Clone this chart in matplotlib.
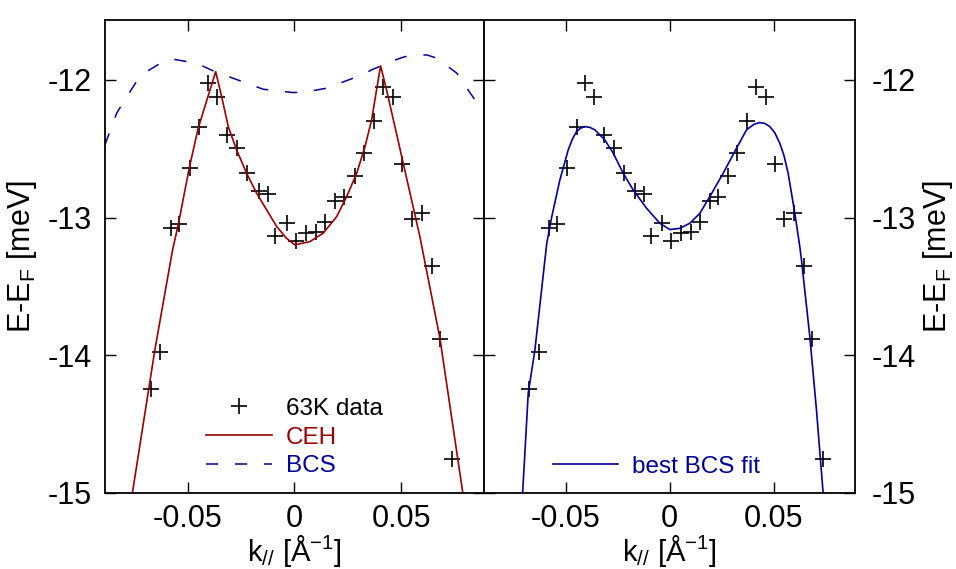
import numpy as np
import matplotlib
matplotlib.use("Agg")
import matplotlib.pyplot as plt

plt.rcParams['font.family'] = ['Liberation Sans', 'DejaVu Sans']
plt.rcParams['mathtext.default'] = 'regular'
plt.rcParams['axes.unicode_minus'] = False

# 63K data points (k in 1/A, E-EF in meV)
k_data = [-0.0673, -0.0629, -0.0579, -0.0541, -0.0491, -0.0447, -0.0405, -0.0361,
          -0.0314, -0.0268, -0.0221, -0.0167, -0.0125, -0.0089, -0.0037, 0.0008,
          0.0056, 0.0103, 0.0145, 0.0192, 0.0234, 0.0282, 0.0324, 0.0371,
          0.0414, 0.0461, 0.0506, 0.0550, 0.0597, 0.0643, 0.0682, 0.0737]
e_data = [-14.246, -13.973, -13.077, -13.046, -12.637, -12.339, -12.020, -12.126,
          -12.399, -12.496, -12.673, -12.804, -12.830, -13.133, -13.036, -13.167,
          -13.109, -13.102, -13.029, -12.877, -12.847, -12.697, -12.532, -12.298,
          -12.049, -12.126, -12.610, -13.012, -12.968, -13.351, -13.883, -14.755]

# CEH curve
k_ceh = [-0.0759, -0.0654, -0.0571, -0.0543, -0.0493, -0.0451, -0.0369, -0.0341,
         -0.0310, -0.0271, -0.0224, -0.0177, -0.0130, -0.0083, -0.0037, 0.0002,
         0.0073, 0.0135, 0.0198, 0.0245, 0.0292, 0.0331, 0.0362, 0.0385,
         0.0404, 0.0432, 0.0471, 0.0510, 0.0549, 0.0588, 0.0682, 0.0789]
e_ceh = [-14.997, -13.961, -13.235, -13.041, -12.641, -12.351, -11.940, -12.121,
         -12.339, -12.508, -12.678, -12.823, -12.944, -13.065, -13.150, -13.198,
         -13.174, -13.113, -12.993, -12.847, -12.678, -12.484, -12.290, -12.073,
         -11.898, -12.073, -12.339, -12.605, -12.871, -13.138, -13.876, -14.997]

# BCS curve (dashed, left panel)
k_bcs = [-0.0888, -0.0833, -0.0795, -0.0740, -0.0693, -0.0615, -0.0568, -0.0458,
         -0.0373, -0.0287, -0.0146, -0.0006, 0.0049, 0.0166, 0.0213, 0.0315,
         0.0362, 0.0463, 0.0518, 0.0620, 0.0667, 0.0761, 0.0791, 0.0846, 0.0893]
e_bcs = [-12.472, -12.242, -12.145, -12.012, -11.940, -11.867, -11.850, -11.879,
         -11.940, -11.988, -12.068, -12.092, -12.089, -12.056, -12.024, -11.964,
         -11.927, -11.860, -11.831, -11.818, -11.842, -11.951, -12.020, -12.145, -12.254]

# best BCS fit (right panel)
k_fit = [-0.0706, -0.0679, -0.0647, -0.0599, -0.0590, -0.0566, -0.0527, -0.0487,
         -0.0467, -0.0447, -0.0427, -0.0407, -0.0383, -0.0359, -0.0311, -0.0271,
         -0.0223, -0.0175, -0.0111, -0.0047, 0.0001, 0.0049, 0.0097, 0.0145,
         0.0193, 0.0257, 0.0321, 0.0369, 0.0405, 0.0433, 0.0457, 0.0481,
         0.0505, 0.0529, 0.0549, 0.0569, 0.0601, 0.0625, 0.0633, 0.0673,
         0.0705, 0.0737]
e_fit = [-15.001, -14.275, -13.961, -13.307, -13.186, -12.993, -12.726, -12.508,
         -12.430, -12.375, -12.350, -12.339, -12.345, -12.363, -12.436, -12.532,
         -12.678, -12.799, -12.932, -13.041, -13.087, -13.078, -13.041, -12.969,
         -12.847, -12.678, -12.496, -12.363, -12.322, -12.310, -12.316, -12.339,
         -12.385, -12.460, -12.550, -12.678, -12.968, -13.211, -13.307, -13.864,
         -14.397, -15.001]

xticks = [-0.05, 0, 0.05]
xticklabels = ['-0.05', '0', '0.05']
yticks = [-15, -14, -13, -12]

red = '#990000'
blue = '#000099'

fig = plt.figure(figsize=(9.56, 5.69), dpi=100)
ax1 = fig.add_axes([104.5 / 956, 76 / 569, 379.8 / 956, 473 / 569])
ax2 = fig.add_axes([484.3 / 956, 76 / 569, 370.7 / 956, 473 / 569])

ax1.plot(k_data, e_data, '+', color='black', ms=12, mew=1.2, label='63K data')
ax1.plot(k_ceh, e_ceh, '-', color=red, lw=1.2, label='CEH')
ax1.plot(k_bcs, e_bcs, '--', color=blue, lw=1.1, dashes=(8, 11), label='BCS')

ax2.plot(k_data, e_data, '+', color='black', ms=12, mew=1.2)
ax2.plot(k_fit, e_fit, '-', color=blue, lw=1.2, label='best BCS fit')

for ax in (ax1, ax2):
    ax.set_xlim(-0.089, 0.089)
    ax.set_ylim(-15, -11.565)
    ax.set_xticks(xticks)
    ax.set_xticklabels(xticklabels)
    ax.set_yticks(yticks)
    ax.tick_params(direction='in', length=8, width=1, top=True, right=True,
                   left=True, bottom=True, labelsize=22)
    ax.tick_params(axis='x', pad=8)
    for s in ax.spines.values():
        s.set_linewidth(1.3)
    ax.set_xlabel('k$_{//}$ [Å$^{-1}$]', fontsize=21, labelpad=-1)

ax1.tick_params(axis='y', pad=9)
ax1.set_ylabel('E-E$_F$ [meV]', fontsize=22, labelpad=6)

ax2.tick_params(axis='y', labelleft=False, labelright=True, pad=12)
ax2.yaxis.set_label_position('right')
ax2.set_ylabel('E-E$_F$ [meV]', fontsize=22, labelpad=4)

leg1 = ax1.legend(loc='center left', bbox_to_anchor=(0.2665, 0.1173), frameon=False,
                  fontsize=17.5, handlelength=2.72, handletextpad=0.59,
                  labelspacing=0.28, borderpad=0, borderaxespad=0)
for txt, c in zip(leg1.get_texts(), ['black', red, blue]):
    txt.set_color(c)

leg2 = ax2.legend(loc='center left', bbox_to_anchor=(0.184, 0.0556), frameon=False,
                  fontsize=17.5, handlelength=2.7, handletextpad=0.59,
                  borderpad=0, borderaxespad=0)
for txt in leg2.get_texts():
    txt.set_color(blue)

fig.savefig('out.png', dpi=100)
